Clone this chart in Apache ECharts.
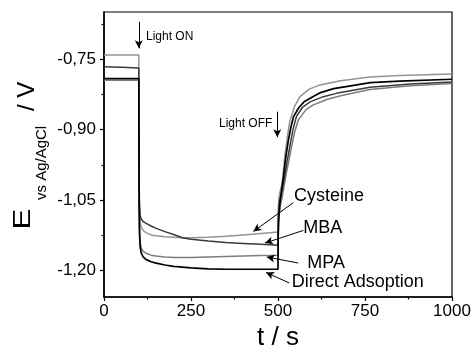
<!DOCTYPE html>
<html><head><meta charset="utf-8">
<script src="https://cdn.jsdelivr.net/npm/echarts@6/dist/echarts.min.js"></script>
<style>html,body{margin:0;padding:0;background:#fff}#c{width:474px;height:348px}</style>
</head><body><div id="c"></div>
<script>
// ---------- data ----------
const xTickValues = [0, 250, 500, 750, 1000];
const yTickValues = [-1.20, -1.05, -0.90, -0.75];
const yMinorValues = [-1.125, -0.975, -0.825, -0.675];

const cysT = [0,50,100,100.5,101,102,104,107,112,120,135,150,175,200,225,250,300,350,400,450,500,500.5,502,505,510,513,520,527,534,548,563,590,621,680,764,850,1000];
const cysE = [-0.7415,-0.7415,-0.7415,-0.90,-1.02,-1.08,-1.100,-1.108,-1.114,-1.119,-1.124,-1.126,-1.128,-1.129,-1.130,-1.130,-1.129,-1.127,-1.124,-1.121,-1.118,-1.08,-1.05,-1.035,-1.02,-1.005,-0.955,-0.915,-0.882,-0.850,-0.830,-0.814,-0.805,-0.796,-0.788,-0.785,-0.782];

const mbaT = [0,50,100,100.5,101,102,104,107,112,120,135,150,175,200,225,250,300,350,400,450,500,500.5,502,505,512,519,526,534,543,553,570,592,630,668,764,880,1000];
const mbaE = [-0.7663,-0.7677,-0.769,-0.90,-1.00,-1.06,-1.083,-1.090,-1.095,-1.099,-1.105,-1.110,-1.117,-1.123,-1.130,-1.133,-1.137,-1.140,-1.142,-1.144,-1.146,-1.10,-1.07,-1.05,-1.03,-1.00,-0.968,-0.936,-0.900,-0.872,-0.853,-0.841,-0.830,-0.823,-0.810,-0.803,-0.799];

const mpaT = [0,50,100,100.5,101,102,104,107,113,120,135,150,175,200,250,300,350,400,450,500,500.5,502,506,513,522,530,538,548,558,580,600,640,680,764,880,1000];
const mpaE = [-0.7952,-0.7952,-0.7952,-0.95,-1.05,-1.11,-1.140,-1.152,-1.159,-1.163,-1.167,-1.169,-1.171,-1.172,-1.172,-1.171,-1.170,-1.169,-1.168,-1.167,-1.12,-1.09,-1.065,-1.04,-1.00,-0.97,-0.94,-0.905,-0.88,-0.858,-0.848,-0.836,-0.828,-0.815,-0.807,-0.802];

const dirT = [0,50,100,100.5,101,102,104,107,112,120,135,150,175,200,250,300,350,400,450,500,500.5,502,505,510,515,522,530,537,545,560,575,600,620,660,700,765,850,1000];
const dirE = [-0.7918,-0.7918,-0.7918,-0.95,-1.06,-1.12,-1.150,-1.162,-1.170,-1.176,-1.181,-1.184,-1.188,-1.191,-1.194,-1.196,-1.197,-1.197,-1.197,-1.197,-1.13,-1.09,-1.06,-1.03,-1.005,-0.96,-0.922,-0.895,-0.872,-0.853,-0.841,-0.830,-0.822,-0.813,-0.808,-0.800,-0.797,-0.793];

const seriesNames = ['Cysteine', 'MPA', 'MBA', 'Direct Adsoption'];

// annotations (data coordinates)
const arrowStart = [[100,-0.671],[498,-0.862],[544.5,-1.0551],[572.7,-1.1145],[558.3,-1.1838],[532.5,-1.2262]];
const arrowEnd   = [[100,-0.7273],[498,-0.9162],[429,-1.1167],[462.6,-1.1413],[467.5,-1.171],[465.5,-1.2037]];
const labelText  = ['Light ON','Light OFF','Cysteine','MBA','MPA','Direct Adsoption'];
const labelAt    = [[120.7,-0.7027],[330.5,-0.888],[546,-1.0423],[572.7,-1.1088],[584.2,-1.1838],[539.4,-1.2245]];

// ---------- chart ----------
const FONT = '"Liberation Sans", Arial, Helvetica, sans-serif';
const zip = (a, b) => a.map((v, i) => [v, b[i]]);
const chart = echarts.init(document.getElementById('c'), null, {renderer: 'canvas'});
const YMIN = -1.256, YMAX = -0.65;

const lineSeries = (name, t, e, color, w) => ({
  name, type: 'line', data: zip(t, e), showSymbol: false, symbol: 'none',
  lineStyle: {color, width: w}, itemStyle: {color}, animation: false, z: 3, silent: true
});

const option = {
  animation: false,
  backgroundColor: '#fff',
  grid: {left: 104, right: 22, top: 12, bottom: 51, show: true, borderColor: '#000', borderWidth: 1.2, containLabel: false, outerBoundsMode: 'none'},
  xAxis: {
    type: 'value', min: 0, max: 1000, interval: 250,
    name: 't / s', nameLocation: 'middle', nameGap: 24,
    nameTextStyle: {fontFamily: FONT, fontSize: 26, color: '#000'},
    axisLine: {show: true, lineStyle: {color: '#000', width: 1.5}},
    axisTick: {show: true, length: 4, customValues: xTickValues, lineStyle: {color: '#000', width: 1.2}},
    minorTick: {show: true, splitNumber: 2, length: 2.5, lineStyle: {color: '#000', width: 1.2}},
    axisLabel: {fontFamily: FONT, fontSize: 17, color: '#000', margin: 6, customValues: xTickValues,
      formatter: v => String(v)},
    splitLine: {show: false}
  },
  yAxis: [{
    type: 'value', min: YMIN, max: YMAX,
    axisLine: {show: true, lineStyle: {color: '#000', width: 1.5}},
    axisTick: {show: true, length: 4, customValues: yTickValues, lineStyle: {color: '#000', width: 1.2}},
    axisLabel: {fontFamily: FONT, fontSize: 17, color: '#000', margin: 8, customValues: yTickValues,
      formatter: v => v.toFixed(2).replace('.', ',')},
    splitLine: {show: false}
  }, {
    type: 'value', min: YMIN, max: YMAX, position: 'left', offset: 0,
    axisLine: {show: false},
    axisTick: {show: true, length: 2.5, customValues: yMinorValues, lineStyle: {color: '#000', width: 1.2}},
    axisLabel: {show: false},
    splitLine: {show: false}
  }],
  series: [
    lineSeries(seriesNames[0], cysT, cysE, '#939393', 1.5),
    lineSeries(seriesNames[1], mpaT, mpaE, '#7c7c7c', 1.5),
    lineSeries(seriesNames[2], mbaT, mbaE, '#3a3a3a', 1.5),
    Object.assign(lineSeries(seriesNames[3], dirT, dirE, '#000', 1.7), {
      markLine: {
        silent: true, animation: false, symbol: ['none', 'arrow'], symbolSize: [6, 8],
        label: {show: false},
        lineStyle: {color: '#000', width: 1, type: 'solid'},
        emphasis: {disabled: true},
        data: arrowStart.map((s, i) => [{coord: s}, {coord: arrowEnd[i]}])
      }
    })
  ]
};
chart.setOption(option);

const labelSizes = [12, 12, 18, 18, 18, 18];
const graphics = labelText.map((txt, i) => {
  const p = chart.convertToPixel({gridIndex: 0}, labelAt[i]);
  return {type: 'text', x: p[0], y: p[1], silent: true,
    style: {text: txt, font: labelSizes[i] + 'px ' + FONT, fill: '#000', textAlign: 'left', textVerticalAlign: 'middle'}};
});
// y-axis title: E_{vs Ag/AgCl} / V  (rotated)
graphics.push(
  {type: 'text', x: 23.5, y: 219, rotation: Math.PI / 2, scaleX: 1.3, silent: true,
   style: {text: 'E', font: '24px ' + FONT, fill: '#000', textAlign: 'center', textVerticalAlign: 'middle'}},
  {type: 'text', x: 42, y: 200, rotation: Math.PI / 2, silent: true,
   style: {text: 'vs Ag/AgCl', font: '15px ' + FONT, fill: '#000', textAlign: 'left', textVerticalAlign: 'middle'}},
  {type: 'text', x: 27, y: 111, rotation: Math.PI / 2, silent: true,
   style: {text: '/ V', font: '24px ' + FONT, fill: '#000', textAlign: 'left', textVerticalAlign: 'middle'}}
);
chart.setOption({graphic: graphics});
</script>
</body></html>
